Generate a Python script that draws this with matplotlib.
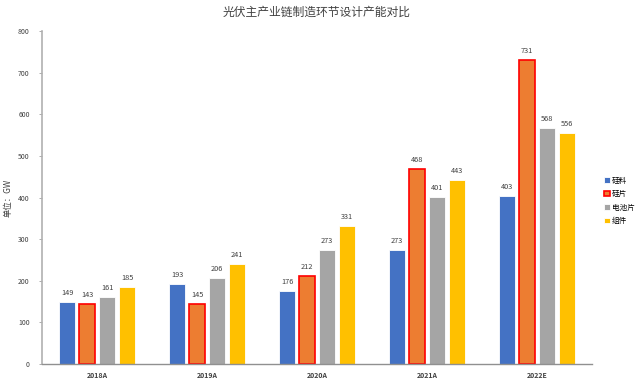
import matplotlib
matplotlib.use("Agg")
import matplotlib.pyplot as plt
import numpy as np

plt.rcParams['font.family'] = ['Noto Sans CJK SC', 'DejaVu Sans']

categories = ["2018A", "2019A", "2020A", "2021A", "2022E"]
series_names = ["硅料", "硅片", "电池片", "组件"]
silicon = [149, 193, 176, 273, 403]
wafer = [143, 145, 212, 468, 731]
cell = [161, 206, 273, 401, 568]
module = [185, 241, 331, 443, 556]
yticks = [0, 100, 200, 300, 400, 500, 600, 700, 800]

colors = ["#4472C4", "#ED7D31", "#A5A5A5", "#FFC000"]
edges = ["white", "#FF0000", "white", "white"]

fig = plt.figure(figsize=(6.4, 3.83), dpi=100)
ax = fig.add_axes([0.066, 0.0496, 0.859, 0.8694])

x = np.arange(len(categories))
step = 0.182
width = 0.145
all_series = [silicon, wafer, cell, module]
for i, (vals, name) in enumerate(zip(all_series, series_names)):
    off = (i - 1.5) * step
    lw = 1.2 if i == 1 else 0.6
    ax.bar(x + off, vals, width, color=colors[i], edgecolor=edges[i],
           linewidth=lw, label=name, zorder=2)
    for xx, v in zip(x + off, vals):
        ax.text(xx, v + 12, str(v), ha='center', va='bottom', fontsize=5.3, color='#404040')

ax.set_xlim(-0.5, len(categories) - 0.5)
ax.set_ylim(0, 800)
ax.set_yticks(yticks)
ax.set_yticklabels([str(t) for t in yticks], fontsize=5, color='#404040')
ax.set_xticks(x)
ax.set_xticklabels(categories, fontsize=5, color='#404040', fontweight='bold')
ax.tick_params(axis='x', length=0, pad=6)
ax.tick_params(axis='y', length=2, width=0.6, color='#A0A0A0', pad=7)
for s in ['top', 'right']:
    ax.spines[s].set_visible(False)
ax.spines['left'].set_color('#B0B0B0')
ax.spines['left'].set_linewidth(1.2)
ax.spines['bottom'].set_color('#909090')
ax.spines['bottom'].set_linewidth(1.0)

ax.set_ylabel("单位：GW", fontsize=6, color='#404040', labelpad=4)
ax.set_title("光伏主产业链制造环节设计产能对比", fontsize=8.5, color='#404040', pad=11)

ax.legend(loc='center left', bbox_to_anchor=(1.01, 0.49), frameon=False,
          fontsize=5.5, handlelength=0.7, handleheight=0.7, handletextpad=0.3,
          labelspacing=0.7)

fig.savefig("out.png", dpi=100)
